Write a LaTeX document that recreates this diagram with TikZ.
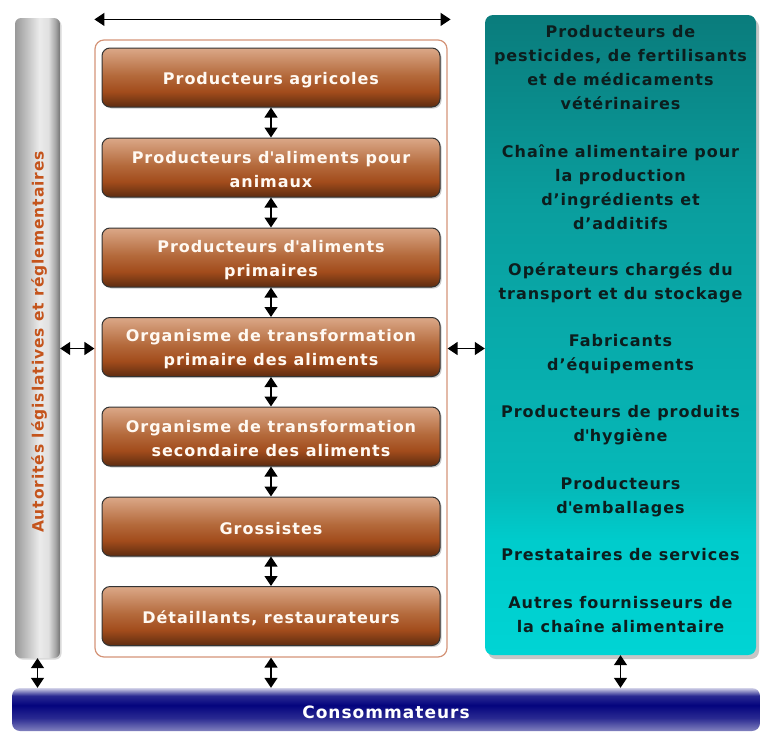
\documentclass[tikz,border=0pt]{standalone}
\usepackage{fontspec}
\setmainfont{DejaVu Sans}[LetterSpace=6]
\usetikzlibrary{arrows.meta,shadows}
\newcommand{\straightapos}{\textquotesingle}
\definecolor{bdark}{HTML}{5E2C10}
\definecolor{bmid}{HTML}{A24C1C}
\definecolor{bmid2}{HTML}{B46A3C}
\definecolor{blight}{HTML}{DBA888}
\definecolor{framec}{HTML}{D49478}
\definecolor{authtext}{HTML}{C4541C}
\definecolor{tealtop}{HTML}{0A7C7C}
\definecolor{tealmid}{HTML}{0A9E9E}
\definecolor{tealbot}{HTML}{00D4D4}
\definecolor{tealtext}{HTML}{0C1E1E}
\definecolor{navy}{HTML}{04047E}
\pgfdeclareverticalshading{brownsh}{100bp}{color(0bp)=(bdark); color(25bp)=(bdark); color(38bp)=(bmid); color(52bp)=(bmid2); color(75bp)=(blight); color(100bp)=(blight)}
\pgfdeclarehorizontalshading{greysh}{100bp}{color(0bp)=(black!40); color(25bp)=(black!40); color(52bp)=(black!8); color(62bp)=(black!12); color(70bp)=(black!35); color(75bp)=(black!55); color(100bp)=(black!55)}
\pgfdeclareverticalshading{bluesh}{100bp}{color(0bp)=(navy!50); color(25bp)=(navy!50); color(40bp)=(navy!85); color(55bp)=(navy); color(66bp)=(navy!85); color(75bp)=(navy!18); color(100bp)=(navy!18)}
\pgfdeclareverticalshading{tealsh}{100bp}{color(0bp)=(tealbot); color(25bp)=(tealbot); color(34bp)=(tealbot!96!black); color(38bp)=(tealmid!50!tealbot); color(60bp)=(tealmid); color(75bp)=(tealtop); color(100bp)=(tealtop)}
\tikzset{
  bbox/.style={rounded corners=8pt, draw=black!80, line width=1pt, shading=brownsh,
    minimum width=338pt, minimum height=59pt,
    drop shadow={shadow xshift=1.5pt, shadow yshift=-1.5pt, opacity=0.4}},
  btext/.style={align=center, text=white!95!orange, font=\bfseries\fontsize{16}{24}\selectfont},
  ttext/.style={align=center, text=tealtext, font=\bfseries\fontsize{16}{24}\selectfont},
  dbl/.style={{Triangle[width=13pt,length=10pt]}-{Triangle[width=13pt,length=10pt]}, line width=1.3pt, black}
}
\begin{document}
\begin{tikzpicture}[x=1pt,y=-1pt]
\useasboundingbox (0,0) rectangle (760,731);
% left authority bar
\node[rounded corners=6pt, shading=greysh, minimum width=45pt, minimum height=640pt,
  drop shadow={shadow xshift=1.5pt, shadow yshift=-1.5pt, opacity=0.3}] (auth) at (37.5,338) {};
\node[rotate=90, text=authtext, font=\bfseries\fontsize{15.5}{18}\selectfont] (authlbl) at (39,342) {Autorités législatives et réglementaires};
% frame
\node[rounded corners=9pt, draw=framec, line width=1.2pt, minimum width=352pt, minimum height=617pt] (frame) at (271,348.5) {};
% brown boxes
\node[bbox] (b1) at (271,77.5) {};
\node[bbox] (b2) at (271,167.5) {};
\node[bbox] (b3) at (271,257.5) {};
\node[bbox] (b4) at (271,347) {};
\node[bbox] (b5) at (271,436.5) {};
\node[bbox] (b6) at (271,526.5) {};
\node[bbox] (b7) at (271,616) {};
\node[btext] (b1t) at ([yshift=-2.5pt]b1.center) {Producteurs agricoles};
\node[btext] (b2t) at ([yshift=-2.5pt]b2.center) {Producteurs d\straightapos aliments pour\\animaux};
\node[btext] (b3t) at ([yshift=-2.5pt]b3.center) {Producteurs d\straightapos aliments\\primaires};
\node[btext] (b4t) at ([yshift=-2.5pt]b4.center) {Organisme de transformation\\primaire des aliments};
\node[btext] (b5t) at ([yshift=-2.5pt]b5.center) {Organisme de transformation\\secondaire des aliments};
\node[btext] (b6t) at ([yshift=-2.5pt]b6.center) {Grossistes};
\node[btext] (b7t) at ([yshift=-2.5pt]b7.center) {Détaillants, restaurateurs};
% teal box
\node[rounded corners=8pt, shading=tealsh, minimum width=271pt, minimum height=640pt,
  drop shadow={shadow xshift=3pt, shadow yshift=-4pt, opacity=0.45}] (teal) at (620.5,335) {};
\node[ttext] (t1) at (620.5,68) {Producteurs de\\pesticides, de fertilisants\\et de médicaments\\vétérinaires};
\node[ttext] (t2) at (620.5,187.5) {Chaîne alimentaire pour\\la production\\d’ingrédients et\\d’additifs};
\node[ttext] (t3) at (620.5,283) {Opérateurs chargés du\\transport et du stockage};
\node[ttext] (t4) at (620.5,354) {Fabricants\\d’équipements};
\node[ttext] (t5) at (620.5,425) {Producteurs de produits\\d\straightapos hygiène};
\node[ttext] (t6) at (620.5,497) {Producteurs\\d\straightapos emballages};
\node[ttext] (t7) at (620.5,555) {Prestataires de services};
\node[ttext] (t8) at (620.5,615) {Autres fournisseurs de\\la chaîne alimentaire};
% consumers bar
\node[rounded corners=8pt, shading=bluesh, minimum width=748pt, minimum height=43pt] (cons) at (386,709.5) {};
\node[text=white, font=\bfseries\fontsize{17}{18}\selectfont] (conslbl) at (386,712) {Consommateurs};
% arrows
\draw[dbl] ([yshift=20pt]frame.north west) -- ([yshift=20pt,xshift=3pt]frame.north east);
\draw[dbl] (b1) -- (b2);
\draw[dbl] (b2) -- (b3);
\draw[dbl] (b3) -- (b4);
\draw[dbl] (b4) -- (b5);
\draw[dbl] (b5) -- (b6);
\draw[dbl] (b6) -- (b7);
\draw[dbl] (auth.east |- frame.west) -- (frame.west);
\draw[dbl] (frame.east) -- (teal.west |- frame.east);
\draw[dbl] (auth.south) -- (auth.south |- cons.north);
\draw[dbl] (frame.south) -- (frame.south |- cons.north);
\draw[dbl] (teal.south) -- (teal.south |- cons.north);
\end{tikzpicture}
\end{document}
